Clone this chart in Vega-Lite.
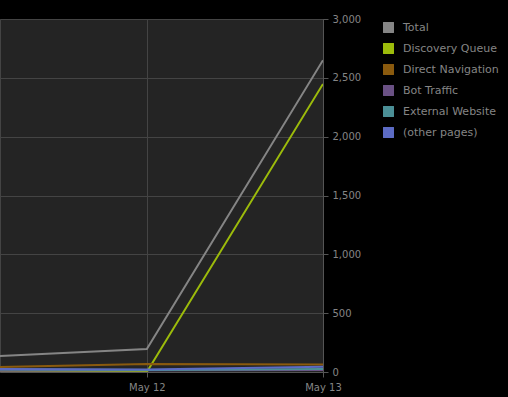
{
  "$schema": "https://vega.github.io/schema/vega-lite/v6.json",
  "width": 323,
  "height": 353,
  "autosize": {"type": "none"},
  "padding": {"left": 0, "top": 19, "right": 185, "bottom": 25},
  "background": "#000000",
  "config": {
    "view": {"fill": "#242424", "stroke": "#444444", "strokeWidth": 1},
    "font": "DejaVu Sans"
  },
  "data": {
    "values": [
      {"date": "2017-05-11T00:00:00Z", "series": "Total", "value": 125},
      {"date": "2017-05-12T00:00:00Z", "series": "Total", "value": 195},
      {"date": "2017-05-13T00:00:00Z", "series": "Total", "value": 2650},
      {"date": "2017-05-11T00:00:00Z", "series": "Discovery Queue", "value": 0},
      {"date": "2017-05-12T00:00:00Z", "series": "Discovery Queue", "value": 0},
      {"date": "2017-05-13T00:00:00Z", "series": "Discovery Queue", "value": 2448},
      {"date": "2017-05-11T00:00:00Z", "series": "Direct Navigation", "value": 37},
      {"date": "2017-05-12T00:00:00Z", "series": "Direct Navigation", "value": 68},
      {"date": "2017-05-13T00:00:00Z", "series": "Direct Navigation", "value": 63},
      {"date": "2017-05-11T00:00:00Z", "series": "Bot Traffic", "value": 10},
      {"date": "2017-05-12T00:00:00Z", "series": "Bot Traffic", "value": 14},
      {"date": "2017-05-13T00:00:00Z", "series": "Bot Traffic", "value": 18},
      {"date": "2017-05-11T00:00:00Z", "series": "External Website", "value": 22},
      {"date": "2017-05-12T00:00:00Z", "series": "External Website", "value": 17},
      {"date": "2017-05-13T00:00:00Z", "series": "External Website", "value": 25},
      {"date": "2017-05-11T00:00:00Z", "series": "(other pages)", "value": 25},
      {"date": "2017-05-12T00:00:00Z", "series": "(other pages)", "value": 22},
      {"date": "2017-05-13T00:00:00Z", "series": "(other pages)", "value": 45}
    ]
  },
  "mark": {"type": "line", "strokeWidth": 2, "clip": true},
  "encoding": {
    "x": {
      "field": "date",
      "type": "temporal",
      "scale": {
        "type": "utc",
        "domain": [
          {"year": 2017, "month": 5, "date": 11, "hours": 4, "utc": true},
          {"year": 2017, "month": 5, "date": 13, "utc": true}
        ]
      },
      "axis": {
        "title": null,
        "values": [
          {"year": 2017, "month": 5, "date": 12, "utc": true},
          {"year": 2017, "month": 5, "date": 13, "utc": true}
        ],
        "format": "%b %d",
        "labelColor": "#858585",
        "labelFontSize": 10,
        "labelPadding": 5,
        "tickColor": "#555555",
        "tickSize": 5,
        "domainColor": "#555555",
        "gridColor": "#444444",
        "labelFlush": false,
        "labelOverlap": false
      }
    },
    "y": {
      "field": "value",
      "type": "quantitative",
      "scale": {"domain": [0, 3000], "nice": false},
      "axis": {
        "orient": "right",
        "title": null,
        "values": [0, 500, 1000, 1500, 2000, 2500, 3000],
        "format": ",.0f",
        "labelColor": "#858585",
        "labelFontSize": 10,
        "labelPadding": 4,
        "tickColor": "#555555",
        "tickSize": 5,
        "domainColor": "#555555",
        "gridColor": "#444444"
      }
    },
    "color": {
      "field": "series",
      "type": "nominal",
      "scale": {
        "domain": ["Total", "Discovery Queue", "Direct Navigation", "Bot Traffic", "External Website", "(other pages)"],
        "range": ["#858585", "#9cbb0b", "#8a5a0e", "#6a5184", "#4b8f96", "#5c6bc4"]
      },
      "legend": {
        "title": null,
        "orient": "none",
        "legendX": 383,
        "legendY": 3,
        "symbolType": "square",
        "symbolSize": 120,
        "labelColor": "#858585",
        "labelFontSize": 11,
        "labelOffset": 9,
        "rowPadding": 9,
        "encode": {
          "symbols": {
            "update": {
              "fill": {"scale": "color", "field": "value"},
              "fillOpacity": {"value": 1},
              "strokeWidth": {"value": 0}
            }
          }
        }
      }
    },
    "order": {"field": "series"}
  }
}
